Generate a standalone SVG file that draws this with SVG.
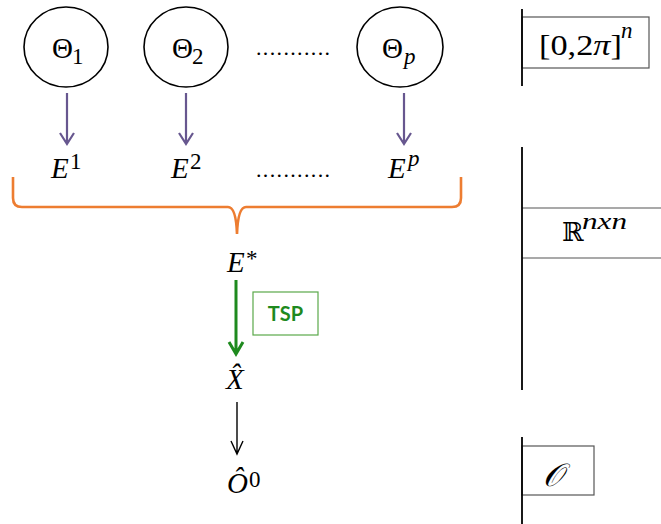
<svg xmlns="http://www.w3.org/2000/svg" width="661" height="524" viewBox="0 0 661 524">
  <defs>
    <style>
      .node { fill: #ffffff; stroke: #000000; stroke-width: 1.6; }
      .m { font-family: "Liberation Serif", "DejaVu Serif", serif; font-size: 29px; fill: #000000; }
      .mi { font-family: "Liberation Serif", "DejaVu Serif", serif; font-size: 29px; font-style: italic; fill: #000000; }
      .sub { font-family: "Liberation Serif", "DejaVu Serif", serif; font-size: 23px; fill: #000000; }
      .subi { font-family: "Liberation Serif", "DejaVu Serif", serif; font-size: 23px; font-style: italic; fill: #000000; }
      .dots { font-family: "Liberation Serif", serif; font-size: 22px; fill: #000000; }
      .purple { stroke: #67578f; stroke-width: 2.2; fill: none; }
      .green { stroke: #1e8a1e; stroke-width: 3; fill: none; }
      .black { stroke: #000000; stroke-width: 1.4; fill: none; }
      .brace { stroke: #ed7d31; stroke-width: 2.6; fill: none; }
      .axis { stroke: #000000; stroke-width: 1.8; }
      .frame { fill: #ffffff; stroke: #555555; stroke-width: 1.2; }
      .rule { stroke: #555555; stroke-width: 1.2; }
    </style>
  </defs>

  <!-- parameter nodes -->
  <g id="theta1">
    <ellipse class="node" cx="66" cy="47" rx="42" ry="40"/>
    <text class="m" x="52" y="58">Θ</text>
    <text class="sub" x="72" y="64">1</text>
  </g>
  <g id="theta2">
    <ellipse class="node" cx="186" cy="47" rx="42" ry="40"/>
    <text class="m" x="172" y="58">Θ</text>
    <text class="sub" x="192" y="64">2</text>
  </g>
  <g id="thetap">
    <ellipse class="node" cx="400" cy="47" rx="43" ry="40"/>
    <text class="m" x="382" y="58">Θ</text>
    <text class="subi" x="404" y="64">p</text>
  </g>
  <text class="dots" x="256" y="55" textLength="74" lengthAdjust="spacing">...........</text>

  <!-- embedding matrices -->
  <g id="e1">
    <text class="mi" x="51" y="178">E</text>
    <text class="sub" x="70" y="169">1</text>
  </g>
  <g id="e2">
    <text class="mi" x="171" y="178">E</text>
    <text class="sub" x="190" y="169">2</text>
  </g>
  <g id="ep">
    <text class="mi" x="388" y="178">E</text>
    <text class="subi" x="408" y="166">p</text>
  </g>
  <text class="dots" x="256" y="177" textLength="74" lengthAdjust="spacing">...........</text>

  <g id="estar">
    <text class="mi" x="227" y="272">E</text>
    <text class="sub" x="246" y="266" font-size="20">*</text>
  </g>

  <g id="tsp">
    <rect x="253" y="292" width="65" height="43" fill="#ffffff" stroke="#5aa84a" stroke-width="1.2"/>
    <text x="285.5" y="321" text-anchor="middle" font-family="Lato, Liberation Sans, sans-serif" font-weight="bold" font-size="20" fill="#1e8a1e">TSP</text>
  </g>

  <g id="xhat">
    <text class="mi" x="226" y="389">X&#x302;</text>
  </g>

  <g id="ohat0">
    <text class="mi" x="227" y="493">O&#x302;</text>
    <text class="sub" x="249" y="487">0</text>
  </g>

  <!-- connectors -->
  <g id="connectors">
    <path class="purple" d="M67,93 V144 M60,133 L67,144 L74,133"/>
    <path class="purple" d="M186,93 V144 M179,133 L186,144 L193,133"/>
    <path class="purple" d="M404,93 V144 M397,133 L404,144 L411,133"/>
    <path class="brace" d="M13,177 V198 Q13,207 22,207 H228 Q236,207 237,234 Q238,207 246,207 H452 Q461,207 461,198 V177"/>
    <path class="green" d="M236,280 V354 M229,342 L236,354 L243,342"/>
    <path class="black" d="M237,402 V454 M231,441 L237,454 L243,441"/>
  </g>

  <!-- spaces column -->
  <g id="space-angles">
    <rect class="frame" x="522" y="17" width="127" height="51"/>
    <line class="axis" x1="522" y1="9" x2="522" y2="86"/>
    <text class="m" x="539" y="55" font-size="34" textLength="83" lengthAdjust="spacingAndGlyphs">[0,2<tspan font-style="italic">π</tspan>]</text>
    <text class="subi" x="621" y="38">n</text>
  </g>
  <g id="space-matrices">
    <line class="rule" x1="522" y1="208" x2="661" y2="208"/>
    <line class="rule" x1="522" y1="258" x2="661" y2="258"/>
    <line class="axis" x1="522" y1="147" x2="522" y2="390"/>
    <text font-family="DejaVu Serif, serif" font-size="26" x="562" y="241">ℝ</text>
    <text class="subi" x="582" y="229" textLength="45" lengthAdjust="spacingAndGlyphs">nxn</text>
  </g>
  <g id="space-orders">
    <rect class="frame" x="522" y="446" width="72" height="49"/>
    <line class="axis" x1="522" y1="437" x2="522" y2="524"/>
    <text font-family="Liberation Serif, DejaVu Serif, serif" font-style="italic" font-size="32" x="543" y="486">𝒪</text>
  </g>
</svg>
